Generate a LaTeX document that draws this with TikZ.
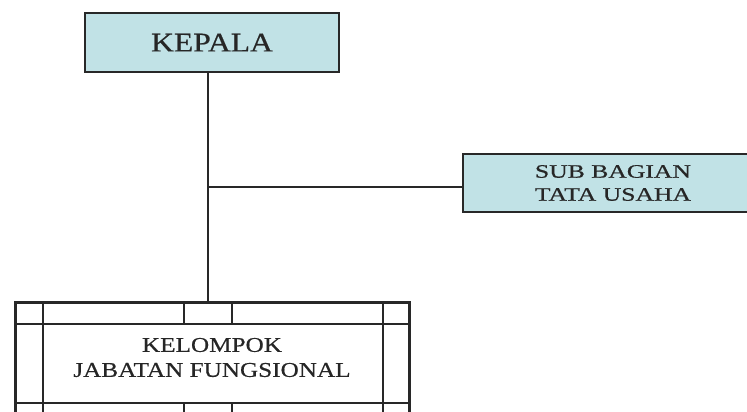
\documentclass[tikz,border=0pt]{standalone}
\usepackage{fontspec}
\setmainfont{Liberation Serif}
\newfontfamily\headfont{Liberation Serif}[FakeStretch=1.17,FakeBold=0.6]
\newfontfamily\subfont{Liberation Serif}[FakeStretch=1.35,FakeBold=0.6]
\newfontfamily\groupfont{Liberation Serif}[FakeStretch=1.2,FakeBold=0.5]
\usetikzlibrary{positioning}
\definecolor{boxblue}{RGB}{193,226,230}
\definecolor{linegray}{RGB}{40,40,40}
\tikzset{
  unitbox/.style={draw=linegray, line width=1.5pt, fill=boxblue, inner sep=0pt, align=center, text=black!85},
  link/.style={draw=linegray, line width=1.5pt},
  frame/.style={draw=linegray, line width=3pt}
}

\begin{document}
\begin{tikzpicture}[x=1pt,y=-1pt]
\useasboundingbox (0,0) rectangle (747,412);
\clip (0,0) rectangle (747,412);
% boxes
\node[unitbox, minimum width=254pt, minimum height=59pt, font={\headfont\fontsize{27}{30}\selectfont}] (kepala) at (212,42.5) {KEPALA};
\node[unitbox, minimum width=300pt, minimum height=58pt, font={\subfont\fontsize{19}{23}\selectfont}] (subbag) at (613,183) {SUB BAGIAN\\TATA USAHA};
\node[align=center, inner sep=0pt, text=black!85, font={\groupfont\fontsize{21}{25}\selectfont}] (kjf) at (212,357.5) {KELOMPOK\\JABATAN FUNGSIONAL};
\coordinate (kjftop) at (208,302);
\coordinate (branch) at (208,187);
% frame of kelompok
\draw[link] (15,324) -- (409,324);
\draw[link] (15,403) -- (409,403);
\foreach \x in {43,383} {
 \draw[link] (\x,302) -- (\x,440);
}
\foreach \x in {184,232} {
 \draw[link] (\x,302) -- (\x,324);
 \draw[link] (\x,403) -- (\x,440);
}
\draw[frame] (15,302) rectangle (409,440);
% connectors
\draw[link] (kjftop |- kepala.south) -- (kjftop);
\draw[link] (branch) -- (branch -| subbag.west);
\end{tikzpicture}
\end{document}
